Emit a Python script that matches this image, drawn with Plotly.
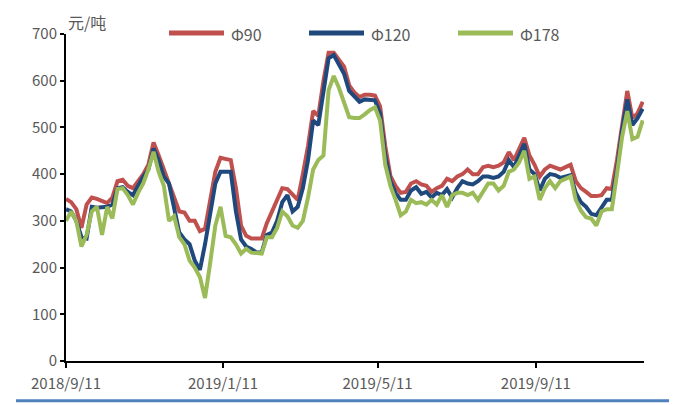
import pandas as pd
import plotly.graph_objects as go

# Sampling dates (every 4 days from 2018/9/11)
dates = pd.date_range("2018-09-11", periods=113, freq="4D")

phi90 = [347, 340, 325, 285, 335, 350, 347, 343, 338, 350, 385, 388, 375, 370, 385, 400, 420, 468, 440, 410, 385,
         350, 320, 318, 300, 300, 278, 283, 350, 405, 435, 432, 430, 370, 290, 268, 262, 262, 262, 295, 320,
         345, 370, 368, 355, 345, 400, 460, 535, 525, 600, 660, 660, 645, 630, 590, 575, 565, 570, 570, 568,
         545, 460, 396, 375, 360, 362, 380, 385, 378, 375, 362, 370, 375, 390, 385, 395, 400, 410, 400, 400,
         415, 418, 415, 418, 425, 447, 430, 455, 478, 440, 420, 395, 410, 418, 415, 410, 415, 420, 385, 370,
         362, 353, 353, 355, 370, 368, 430, 510, 578, 520, 530, 555]

phi120 = [325, 320, 300, 265, 262, 330, 328, 330, 330, 335, 370, 372, 362, 355, 375, 395, 410, 455, 430, 395, 380,
          330, 275, 260, 250, 215, 195, 250, 320, 380, 405, 405, 405, 320, 260, 245, 240, 232, 232, 270, 275,
          300, 340, 355, 320, 330, 370, 430, 515, 505, 580, 648, 655, 635, 615, 578, 565, 555, 560, 560, 558,
          530, 440, 385, 360, 345, 345, 365, 372, 358, 362, 350, 360, 355, 368, 350, 370, 385, 380, 378, 385,
          395, 395, 392, 395, 405, 430, 415, 440, 465, 410, 400, 365, 390, 400, 398, 392, 395, 398, 360, 340,
          330, 315, 312, 330, 345, 345, 410, 495, 560, 505, 520, 540]

phi178 = [300, 320, 300, 245, 270, 320, 330, 270, 330, 305, 368, 370, 355, 335, 360, 380, 410, 448, 405, 375, 300,
          310, 265, 250, 215, 200, 180, 135, 210, 290, 330, 268, 265, 250, 230, 240, 232, 230, 230, 265, 265,
          285, 320, 310, 290, 285, 300, 350, 410, 430, 440, 580, 610, 585, 550, 522, 520, 520, 528, 537, 543,
          515, 420, 375, 345, 312, 320, 345, 338, 340, 335, 345, 335, 355, 330, 355, 360, 360, 355, 360, 345,
          362, 380, 380, 365, 375, 405, 410, 425, 450, 390, 395, 345, 370, 385, 370, 385, 390, 395, 345, 322,
          308, 305, 290, 320, 325, 325, 400, 480, 535, 475, 480, 515]

series_names = ["Φ90", "Φ120", "Φ178"]
colors = ["#C0504D", "#1F497D", "#9BBB59"]
tick_dates = ["2018-09-11", "2019-01-11", "2019-05-11", "2019-09-11"]
tick_text = ["2018/9/11", "2019/1/11", "2019/5/11", "2019/9/11"]

FONT = "Noto Sans CJK SC"
GRAY = "#595959"

fig = go.Figure()
for name, vals, col in zip(series_names, [phi90, phi120, phi178], colors):
    fig.add_trace(go.Scatter(x=dates, y=vals, mode="lines", name=name,
                             line=dict(color=col, width=4), showlegend=False))

# page has an 8px body margin; figure is sized/placed to compensate
OFF = 8
W, H = 677 - OFF, 405 - OFF
ml, mt = 66 - OFF, 34 - OFF
mr, mb = 33, 42
pw, ph = 578, 329

def px(x):
    return (x - 66) / pw

def py(y):
    return (363 - y) / ph

shapes = []
annotations = []
# legend drawn as line swatches + text
legend_items = [(169, 224, 229), (309, 364, 369), (458, 513, 518)]
for (x0, x1, xt), name, col in zip(legend_items, series_names, colors):
    shapes.append(dict(type="line", xref="paper", yref="paper", x0=px(x0), x1=px(x1),
                       y0=py(33), y1=py(33), line=dict(color=col, width=5)))
    annotations.append(dict(text=name, xref="paper", yref="paper", x=px(xt), y=py(34),
                            xanchor="left", yanchor="middle", showarrow=False,
                            font=dict(family=FONT, size=16, color=GRAY)))
# unit label
annotations.append(dict(text="元/吨", xref="paper", yref="paper", x=px(66), y=py(22),
                        xanchor="left", yanchor="middle", showarrow=False,
                        font=dict(family=FONT, size=16, color=GRAY)))
# bottom decorative rule
shapes.append(dict(type="line", xref="paper", yref="paper", x0=px(16), x1=px(671),
                   y0=py(403), y1=py(403), line=dict(color="#4F81BD", width=3)))

fig.update_layout(
    width=W, height=H,
    margin=dict(l=ml, r=mr, t=mt, b=mb),
    paper_bgcolor="white", plot_bgcolor="white",
    font=dict(family=FONT, size=15, color=GRAY),
    shapes=shapes, annotations=annotations,
    xaxis=dict(type="date", range=["2018-09-11", "2019-12-04"],
               tickvals=tick_dates, ticktext=tick_text,
               showline=True, linecolor="black", linewidth=2,
               ticks="outside", ticklen=5, tickwidth=2, tickcolor="black",
               ticklabelstandoff=3,
               showgrid=False, zeroline=False,
               tickfont=dict(family=FONT, size=15, color=GRAY)),
    yaxis=dict(range=[0, 700], dtick=100, tick0=0,
               showline=True, linecolor="black", linewidth=2,
               ticks="outside", ticklen=4, tickwidth=2, tickcolor="black",
               showgrid=False, zeroline=False,
               tickfont=dict(family=FONT, size=15, color=GRAY)),
)

fig.write_html("out.html")
